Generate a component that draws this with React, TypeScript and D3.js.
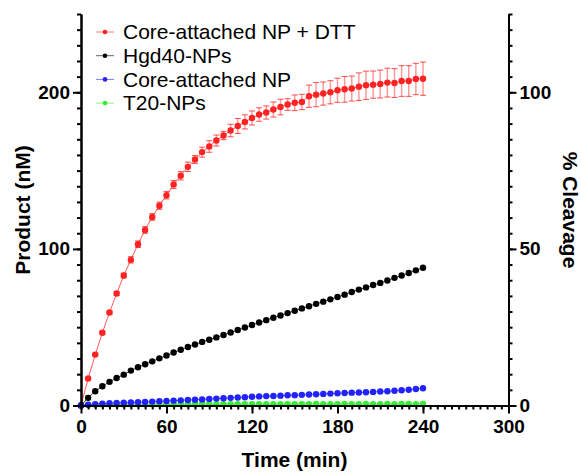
import React, { useRef, useEffect } from 'react';
import * as d3 from 'd3';

// sampling times (min)
const time = [
  0, 5, 10, 15, 20, 25, 30, 35, 40, 45, 50, 55, 60, 65, 70, 75, 80, 85, 90, 95,
  100, 105, 110, 115, 120, 125, 130, 135, 140, 145, 150, 155, 160, 165, 170,
  175, 180, 185, 190, 195, 200, 205, 210, 215, 220, 225, 230, 235, 240,
];

// product (nM) per series
const dttProduct = [
  0, 17.2, 32.5, 46.5, 59.4, 71.5, 83.0, 93.0, 103.0, 112.1, 120.4, 127.6,
  134.3, 141.1, 146.7, 152.4, 157.1, 161.8, 165.4, 169.2, 172.4, 175.6, 178.5,
  181.1, 183.6, 185.8, 187.1, 189.0, 190.6, 192.2, 193.3, 193.8, 197.5, 198.5,
  199.2, 200.0, 201.3, 201.9, 202.4, 203.6, 204.5, 204.9, 205.3, 206.2, 205.9,
  207.2, 207.2, 208.5, 208.7,
];
const dttError = [
  0, 0.8, 0.8, 1.0, 1.0, 1.2, 1.5, 2.0, 2.1, 2.1, 2.1, 2.3, 2.4, 2.6, 2.7, 3.0,
  2.5, 3.2, 3.7, 3.5, 2.7, 4.0, 4.8, 4.5, 4.5, 4.3, 4.2, 4.8, 5.0, 3.7, 5.0,
  4.9, 7.1, 7.7, 7.4, 7.4, 7.7, 8.2, 8.0, 8.8, 9.0, 8.7, 8.9, 9.2, 9.2, 9.8,
  9.8, 10.0, 10.6,
];
const hgdProduct = [
  0, 4.9, 9.1, 12.3, 15.1, 17.6, 19.7, 22.3, 24.4, 26.3, 28.2, 30.1, 31.9,
  33.8, 35.6, 37.4, 39.0, 40.6, 42.0, 43.5, 45.0, 46.6, 48.2, 49.8, 51.4, 53.0,
  54.5, 56.0, 57.5, 59.0, 60.5, 62.0, 63.4, 64.9, 66.3, 67.8, 69.3, 70.8, 72.5,
  74.0, 75.4, 76.9, 78.3, 79.8, 81.5, 83.0, 84.6, 86.3, 88.0,
];
const coreProduct = [
  0, 0.5, 0.9, 1.2, 1.4, 1.6, 1.8, 1.9, 2.1, 2.3, 2.5, 2.7, 2.9, 3.1, 3.3, 3.5,
  3.7, 3.9, 4.2, 4.4, 4.6, 4.9, 5.1, 5.3, 5.6, 5.8, 6.0, 6.1, 6.3, 6.5, 6.6,
  6.8, 7.0, 7.2, 7.4, 7.6, 7.8, 8.0, 8.2, 8.3, 8.5, 8.7, 8.9, 9.1, 9.4, 9.7,
  10.1, 10.5, 11.0,
];
const t20Product = [
  0, 0.4, 0.5, 0.6, 0.6, 0.7, 0.7, 0.7, 0.8, 0.8, 0.8, 0.8, 0.8, 0.8, 0.9, 0.8,
  0.8, 0.9, 0.9, 0.8, 0.9, 0.9, 0.9, 0.8, 0.9, 0.9, 0.9, 0.9, 0.9, 0.9, 0.9,
  0.9, 0.9, 1.0, 0.9, 0.9, 0.9, 1.0, 0.9, 0.9, 1.0, 0.9, 0.9, 1.0, 0.9, 1.0,
  1.0, 0.9, 1.0,
];

const seriesNames = [
  'Core-attached NP + DTT',
  'Hgd40-NPs',
  'Core-attached NP',
  'T20-NPs',
];
const seriesColors = ['#ff2222', '#000000', '#2222ff', '#33ee33'];

const xTicks = [0, 60, 120, 180, 240, 300];
const yTicks = [0, 100, 200];
const y2Ticks = [0, 50, 100];

const W = 581;
const H = 472;
const FONT = "'Liberation Sans', Arial, sans-serif";

function App() {
  const svgRef = useRef<SVGSVGElement>(null);

  const x = d3.scaleLinear().domain([0, 300]).range([81, 508.5]);
  const y = d3.scaleLinear().domain([0, 250]).range([405.5, 14]);
  const y2 = d3.scaleLinear().domain([0, 125]).range([405.5, 14]);

  useEffect(() => {
    const svg = d3.select(svgRef.current);

    // minor ticks first, major on top
    svg
      .select('.x-minor')
      .call(
        d3.axisBottom(x).tickValues(d3.range(0, 301, 5)).tickSize(4).tickFormat(() => '').tickSizeOuter(0) as any
      );
    svg
      .select('.x-axis')
      .call(d3.axisBottom(x).tickValues(xTicks).tickSize(8).tickPadding(6).tickSizeOuter(0) as any);

    svg
      .select('.y-minor')
      .call(
        d3.axisLeft(y).tickValues(d3.range(0, 251, 10)).tickSize(4).tickFormat(() => '').tickSizeOuter(0) as any
      );
    svg
      .select('.y-axis')
      .call(d3.axisLeft(y).tickValues(yTicks).tickSize(8).tickPadding(3).tickSizeOuter(0) as any);

    svg
      .select('.y2-minor')
      .call(
        d3.axisRight(y2).tickValues(d3.range(0, 126, 5)).tickSize(4).tickFormat(() => '').tickSizeOuter(0) as any
      );
    svg
      .select('.y2-axis')
      .call(d3.axisRight(y2).tickValues(y2Ticks).tickSize(8).tickPadding(3).tickSizeOuter(0) as any);

    svg.selectAll('.domain').attr('stroke', '#000').attr('stroke-width', 2);
    svg.selectAll('.tick line').attr('stroke', '#000').attr('stroke-width', 2);
    svg
      .selectAll('.tick text')
      .attr('fill', '#000')
      .style('font-family', FONT)
      .style('font-size', '19px')
      .style('font-weight', 'bold');
  }, []);

  const series = [dttProduct, hgdProduct, coreProduct, t20Product];
  const drawOrder = [3, 0, 1, 2];

  const line = (vals: number[]) =>
    d3
      .line<number>()
      .x((d, i) => x(time[i]))
      .y((d) => y(d))(vals) as string;

  return (
    <svg
      ref={svgRef}
      width={W}
      height={H}
      style={{ position: 'absolute', left: 0, top: 0, background: '#fff' }}
    >
      {/* error bars for DTT series */}
      <g>
        {dttProduct.map((v, i) => {
          const e = dttError[i];
          if (!e) return null;
          const cx = x(time[i]);
          return (
            <g key={i}>
              <line x1={cx} x2={cx} y1={y(v - e)} y2={y(v + e)} stroke="#ff2222" strokeOpacity={0.45} strokeWidth={1.5} />
              <line x1={cx - 3} x2={cx + 3} y1={y(v + e)} y2={y(v + e)} stroke="#ff2222" strokeOpacity={0.8} strokeWidth={1} />
              <line x1={cx - 3} x2={cx + 3} y1={y(v - e)} y2={y(v - e)} stroke="#ff2222" strokeOpacity={0.8} strokeWidth={1} />
            </g>
          );
        })}
      </g>

      {drawOrder.map((s) => (
        <g key={s}>
          <path d={line(series[s])} fill="none" stroke={seriesColors[s]} strokeOpacity={0.75} strokeWidth={1} />
          {series[s].map((v, i) => (
            <circle key={i} cx={x(time[i])} cy={y(v)} r={3.2} fill={seriesColors[s]} />
          ))}
        </g>
      ))}

      <g className="x-minor" transform="translate(0,405.5)" />
      <g className="x-axis" transform="translate(0,405.5)" />
      <g className="y-minor" transform="translate(81,0)" />
      <g className="y-axis" transform="translate(81,0)" />
      <g className="y2-minor" transform="translate(508.5,0)" />
      <g className="y2-axis" transform="translate(508.5,0)" />

      {/* axis titles */}
      <text x={294.5} y={467} textAnchor="middle" fontFamily={FONT} fontSize={21} fontWeight="bold">
        Time (min)
      </text>
      <text
        transform="translate(30,210) rotate(-90)"
        textAnchor="middle"
        fontFamily={FONT}
        fontSize={21}
        fontWeight="bold"
      >
        Product (nM)
      </text>
      <text
        transform="translate(563,210) rotate(90)"
        textAnchor="middle"
        fontFamily={FONT}
        fontSize={21}
        fontWeight="bold"
      >
        % Cleavage
      </text>

      {/* legend */}
      <g>
        {seriesNames.map((name, i) => {
          const ly = 32 + i * 23.7;
          return (
            <g key={name}>
              <line x1={96} x2={114} y1={ly} y2={ly} stroke={seriesColors[i]} strokeOpacity={0.6} strokeWidth={1} />
              <circle cx={105} cy={ly} r={2.3} fill={seriesColors[i]} />
              <text x={123} y={ly} dy="0.35em" fontFamily={FONT} fontSize={21}>
                {name}
              </text>
            </g>
          );
        })}
      </g>
    </svg>
  );
}

export default App;
